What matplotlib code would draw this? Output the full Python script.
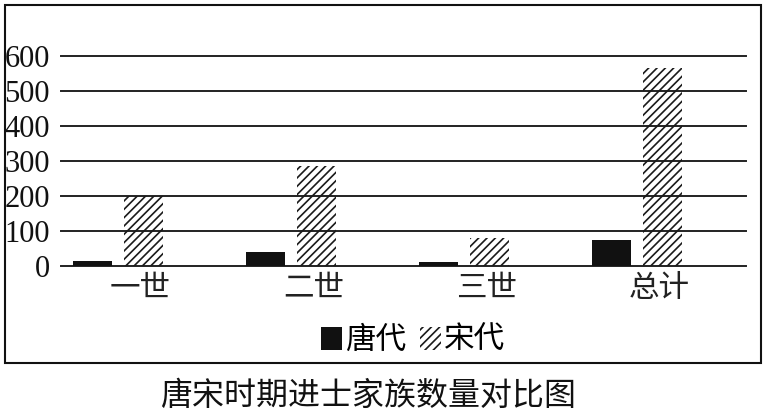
import matplotlib
matplotlib.use("Agg")
import matplotlib.pyplot as plt
from matplotlib.patches import Rectangle
import numpy as np

categories = ['一世', '二世', '三世', '总计']
tang = [15, 40, 12, 75]
song = [200, 285, 80, 565]
yticks = [0, 100, 200, 300, 400, 500, 600]
series_names = ['唐代', '宋代']
title = '唐宋时期进士家族数量对比图'

plt.rcParams['hatch.linewidth'] = 1.2
cjk = ['Noto Sans CJK SC', 'DejaVu Sans']

fig = plt.figure(figsize=(7.65, 4.13), dpi=100)
ax = fig.add_axes([61/765, 147/413, (746-61)/765, 210/413])

x = np.arange(len(categories))
w = 0.225
off = 0.148
b1 = ax.bar(x - off, tang, w, color='#111111', edgecolor='#111111', linewidth=0, zorder=2, label=series_names[0])
b2 = ax.bar(x + off, song, w, facecolor='none', edgecolor='#1a1a1a', hatch='////', linewidth=0, zorder=2, label=series_names[1])

for t in yticks:
    ax.axhline(t, color='#222222', lw=1.4, zorder=1, clip_on=False)

ax.set_xlim(-0.33, 3.63)
ax.set_ylim(0, 600)
ax.set_yticks(yticks)
ax.set_yticklabels([str(t) for t in yticks], fontfamily='Liberation Serif', fontsize=22, color='#111111')
ax.set_xticks(x + 0.13)
ax.set_xticklabels(categories, fontfamily=cjk, fontsize=22, color='#222222')
ax.tick_params(axis='y', length=0, pad=8)
ax.tick_params(axis='x', length=0, pad=5)
for s in ax.spines.values():
    s.set_visible(False)

leg = fig.legend(handles=[b1, b2], labels=series_names, loc='center', bbox_to_anchor=(0.54, 0.175),
                 ncol=2, frameon=False, prop={'family': cjk, 'size': 22},
                 handlelength=0.7, handleheight=0.75, handletextpad=0.1, columnspacing=0.45)

fig.text(0.481, 0.041, title, ha='center', va='center', fontfamily=cjk, fontsize=23, color='#111111')

fig.add_artist(Rectangle((5/765, 50/413), 756/765, 358/413, transform=fig.transFigure,
                         fill=False, edgecolor='#111111', lw=1.5))

fig.savefig('out.png', dpi=100)
